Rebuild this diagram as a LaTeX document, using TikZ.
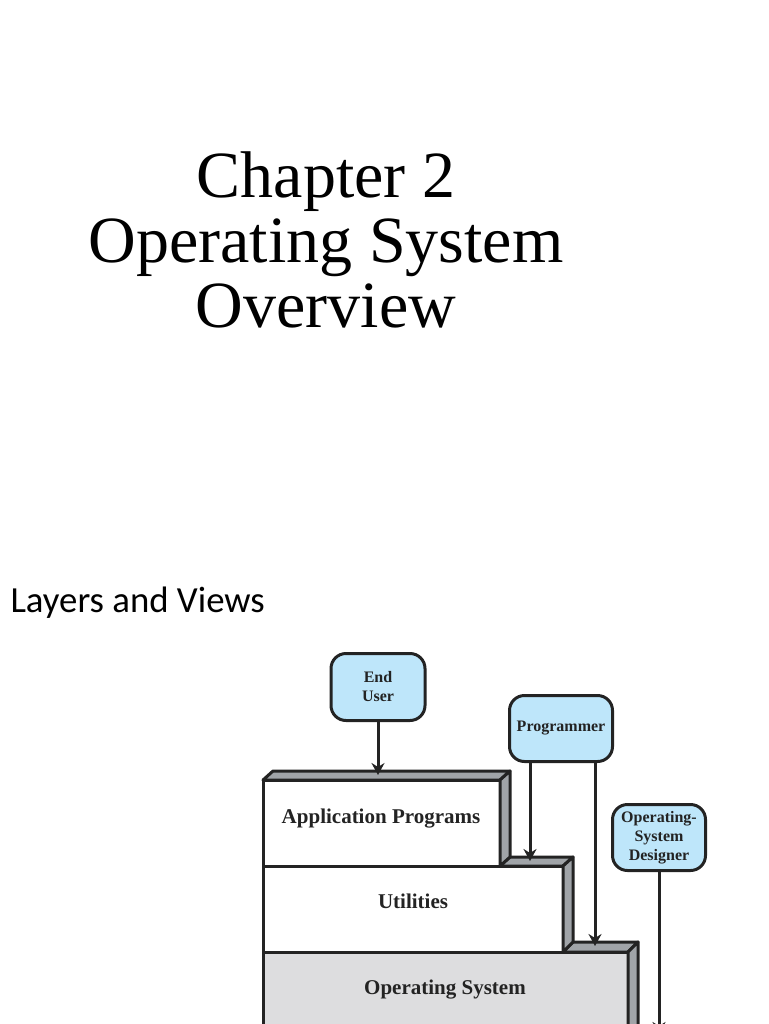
\documentclass[tikz,border=0pt]{standalone}
\usepackage{fontspec}
\setmainfont{Liberation Serif}
\newfontfamily\slidefont{Carlito}
\usetikzlibrary{arrows.meta}

\definecolor{userblue}{RGB}{190,230,250}
\definecolor{bevelgray}{RGB}{160,164,168}
\definecolor{osgray}{RGB}{221,221,223}
\definecolor{inkgray}{RGB}{35,35,35}

\begin{document}
\begin{tikzpicture}[>=Stealth, x=1pt, y=-1pt,
  rolebox/.style={draw=inkgray, line width=3pt, rounded corners=15pt, fill=userblue,
    align=center, text=inkgray, font=\fontsize{16}{19}\selectfont\bfseries},
  face/.style={draw=inkgray, line width=3pt, line join=round},
  bevel/.style={face, fill=bevelgray},
  layertext/.style={anchor=base, text=inkgray, font=\fontsize{21}{24}\selectfont\bfseries},
  viewarrow/.style={-{Stealth[length=12pt,width=13pt,inset=4pt]}, line width=3pt, draw=inkgray}]

  % page frame
  \clip (0,0) rectangle (768,1024);
  \fill[white] (0,0) rectangle (768,1024);

  % slide title
  \node[anchor=base, align=center, font=\fontsize{66}{65}\selectfont] (title) at (326,327)
    {Chapter 2\\Operating System\\Overview};

  \node[anchor=base west, font=\slidefont\fontsize{36.8}{40}\selectfont] (subtitle) at (7,612)
    {Layers and Views};

  % operating system layer
  \draw[face, fill=osgray] (263,952) rectangle (628,1040);
  \draw[bevel] (563,952) -- (573,942) -- (638,942) -- (628,952) -- cycle;
  \draw[bevel] (628,952) -- (638,942) -- (638,1040) -- (628,1040) -- cycle;
  \node[layertext] (oslabel) at (445,994) {Operating System};

  % utilities layer
  \draw[face, fill=white] (263,866) rectangle (563,952);
  \draw[bevel] (500,866) -- (510,857) -- (573,857) -- (563,866) -- cycle;
  \draw[bevel] (563,866) -- (573,857) -- (573,942) -- (563,952) -- cycle;
  \node[layertext] (utillabel) at (413,908) {Utilities};

  % application programs layer
  \draw[face, fill=white] (263,780) rectangle (500,866);
  \draw[bevel] (263,780) -- (273,771) -- (510,771) -- (500,780) -- cycle;
  \draw[bevel] (500,780) -- (510,771) -- (510,857) -- (500,866) -- cycle;
  \node[layertext] (applabel) at (381,823) {Application Programs};

  % where the views land
  \coordinate (tipapp) at (378,775);
  \coordinate (tiputil) at (530,861);
  \coordinate (tipos) at (595,946);
  \coordinate (tiphw) at (659,1034);

  % the three kinds of user
  \node[rolebox, minimum width=94pt, minimum height=67pt] (enduser) at (378,687) {End\\User};
  \node[rolebox, minimum width=103pt, minimum height=66pt] (programmer) at (561,728.5) {Programmer};
  \node[rolebox, minimum width=93pt, minimum height=66pt] (designer) at (659,837.5)
    {Operating-\\System\\Designer};

  \draw[viewarrow] (enduser) -- (tipapp);
  \draw[viewarrow] (programmer.south -| tiputil) -- (tiputil);
  \draw[viewarrow] (programmer.south -| tipos) -- (tipos);
  \draw[viewarrow] (designer) -- (tiphw);

\end{tikzpicture}
\end{document}
